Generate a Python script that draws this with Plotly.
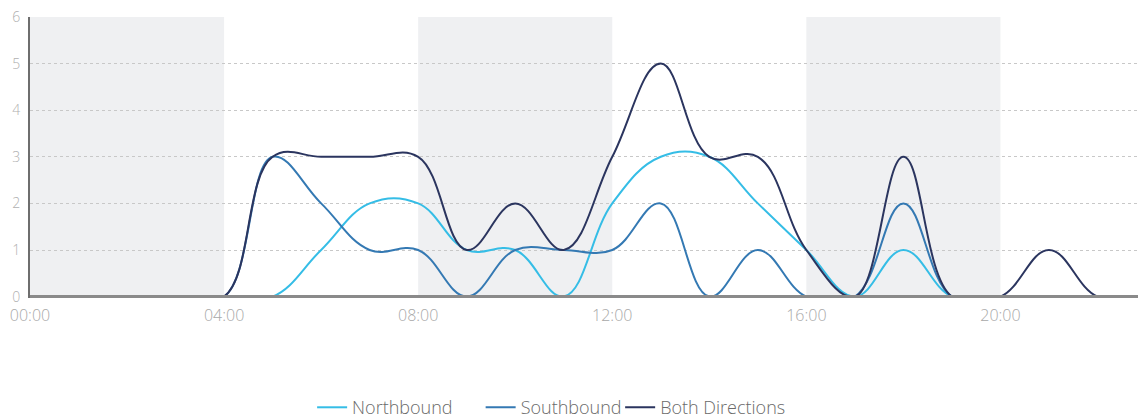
import plotly.graph_objects as go

hours = list(range(24))
northbound = [0, 0, 0, 0, 0, 0, 1, 2, 2, 1, 1, 0, 2, 3, 3, 2, 1, 0, 1, 0, 0, 0, 0, 0]
southbound = [0, 0, 0, 0, 0, 3, 2, 1, 1, 0, 1, 1, 1, 2, 0, 1, 0, 0, 2, 0, 0, 0, 0, 0]
both_dirs = [0, 0, 0, 0, 0, 3, 3, 3, 3, 1, 2, 1, 3, 5, 3, 3, 1, 0, 3, 0, 0, 1, 0, 0]
tick_hours = [0, 4, 8, 12, 16, 20]
tick_labels = ["00:00", "04:00", "08:00", "12:00", "16:00", "20:00"]
shaded_bands = [(0, 4), (8, 12), (16, 20)]

series = [
    ("Northbound", northbound, "#35bde6", "legend", 0.2528),
    ("Southbound", southbound, "#3479b3", "legend2", 0.4038),
    ("Both Directions", both_dirs, "#2b355f", "legend3", 0.5288),
]

fig = go.Figure()
legends = {}
for name, vals, color, leg, lx in series:
    fig.add_trace(go.Scatter(
        x=hours, y=vals, name=name, mode="lines", legend=leg,
        line=dict(color=color, width=2, shape="spline", smoothing=1.15),
        hoverinfo="x+y+name",
    ))
    legends[leg] = dict(orientation="h", x=lx, xanchor="left", y=-0.39, yanchor="middle",
                        font=dict(size=18, color="#6a6a6a", weight=300), itemwidth=30,
                        bgcolor="rgba(0,0,0,0)")

shapes = []
for x0, x1 in shaded_bands:
    shapes.append(dict(type="rect", xref="x", yref="paper", x0=x0, x1=x1, y0=0, y1=1,
                       fillcolor="#eff0f2", line=dict(width=0), layer="below"))
# baseline drawn above the traces (hides zero-valued stretches like the reference)
shapes.append(dict(type="line", xref="paper", yref="y", x0=0, x1=1, y0=0, y1=0,
                   line=dict(color="#8a8a8a", width=3), layer="above"))

fig.update_layout(
    width=1138, height=419,
    margin=dict(l=22, r=0, t=9, b=128.6),
    paper_bgcolor="white", plot_bgcolor="white",
    font=dict(family="Open Sans", color="#999999", size=12),
    shapes=shapes,
    showlegend=True,
    xaxis=dict(range=[0, 23], tickvals=tick_hours, ticktext=tick_labels,
               showgrid=False, zeroline=False, showline=False,
               ticks="", tickfont=dict(size=16, color="#a8a8a8", weight=300),
               ticklabelstandoff=6, automargin=False, fixedrange=True,
               ticklabeloverflow="allow"),
    yaxis=dict(range=[-0.03, 6], tickvals=[0, 1, 2, 3, 4, 5, 6], showgrid=True,
               gridcolor="#c8c8c8", griddash="dot", gridwidth=1, zeroline=False,
               showline=True, linecolor="#6e6e6e", linewidth=2, ticks="",
               tickfont=dict(size=14, color="#b0b0b0", weight=300),
               ticklabelstandoff=5, automargin=False, fixedrange=True,
               ticklabeloverflow="allow"),
    **legends,
)

fig.write_html("out.html")
